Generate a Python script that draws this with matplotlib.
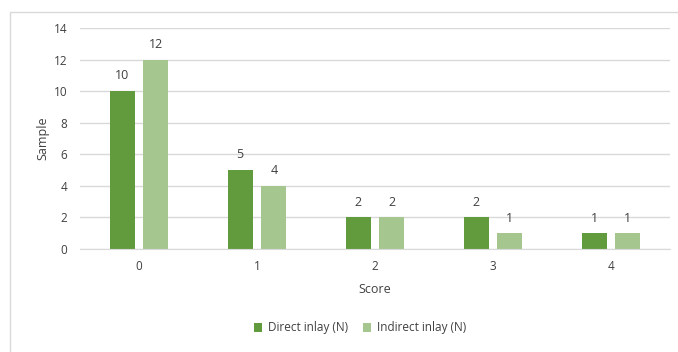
import matplotlib
matplotlib.use("Agg")
import matplotlib.pyplot as plt
import numpy as np
from matplotlib.patches import Rectangle

scores = ["0", "1", "2", "3", "4"]
direct_inlay = [10, 5, 2, 2, 1]
indirect_inlay = [12, 4, 2, 1, 1]

DARK = "#629b3d"
LIGHT = "#a5c78f"
TXT = "#404040"

plt.rcParams.update({
    "font.family": ["Open Sans", "DejaVu Sans"],
    "font.size": 8.5,
})

fig = plt.figure(figsize=(6.78, 3.52), dpi=100)
fig.patches.append(Rectangle((10 / 678, -0.1), 1.2, 1 - 12 / 352 + 0.1,
                             transform=fig.transFigure, fill=False,
                             edgecolor="#d9d9d9", linewidth=1.0))
ax = fig.add_axes([80 / 678, 1 - 249 / 352, 590 / 678, 221 / 352])

x = np.arange(len(scores))
width = 0.21
gap = 0.076
b1 = ax.bar(x - (width + gap) / 2, direct_inlay, width, color=DARK,
            label="Direct inlay (N)")
b2 = ax.bar(x + (width + gap) / 2, indirect_inlay, width, color=LIGHT,
            label="Indirect inlay (N)")
for bars in (b1, b2):
    for r in bars:
        ax.text(r.get_x() + r.get_width() / 2, r.get_height() + 0.55,
                f"{int(r.get_height())}", ha="center", va="bottom",
                fontsize=9, color=TXT)

ax.set_xlim(-0.5, len(scores) - 0.5)
ax.set_ylim(0, 14)
ax.set_yticks(range(0, 15, 2))
ax.set_xticks(x)
ax.set_xticklabels(scores)
ax.grid(axis="y", color="#d9d9d9", linewidth=1.0)
ax.set_axisbelow(True)
for s in ["top", "right", "left"]:
    ax.spines[s].set_visible(False)
ax.spines["bottom"].set_color("#d9d9d9")
ax.tick_params(length=0, colors=TXT, labelsize=8.5)
ax.tick_params(axis="y", pad=9)
ax.tick_params(axis="x", pad=8)
ax.set_xlabel("Score", color=TXT, fontsize=9, labelpad=7)
ax.set_ylabel("Sample", color=TXT, fontsize=9, labelpad=3)

fig.legend(loc="center", bbox_to_anchor=(360 / 678, 1 - 328 / 352), ncol=2,
           frameon=False, fontsize=8.5, handlelength=0.7, handleheight=0.7,
           columnspacing=1.2, handletextpad=0.5, labelcolor=TXT)

fig.savefig("out.png", dpi=100)
